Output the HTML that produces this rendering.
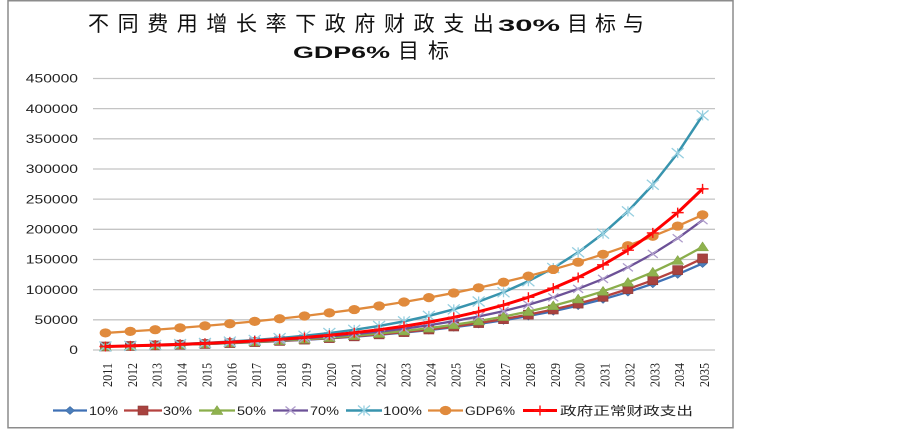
<!DOCTYPE html>
<html>
<head>
<meta charset="utf-8">
<style>
html,body{margin:0;padding:0;background:#fff;width:903px;height:429px;overflow:hidden}
svg{display:block}
</style>
</head>
<body>
<svg id="c" width="903" height="429" viewBox="0 0 903 429" xmlns="http://www.w3.org/2000/svg">
<rect x="8" y="0.75" width="725" height="427" fill="#fff" stroke="#8c8c8c" stroke-width="1.5"/>

<!-- Title -->
<g fill="#111">
<text y="31" font-size="21" font-family="'Liberation Sans','Noto Sans CJK SC',sans-serif" x="88 117.6 147.2 176.8 206.4 236 265.6 295.2 324.8 354.4 384 413.6 443.2 472.8">不同费用增长率下政府财政支出</text>
<text x="498" y="31" font-size="17" font-weight="bold" font-family="'Liberation Sans',sans-serif" textLength="62" lengthAdjust="spacingAndGlyphs">30%</text>
<text y="31" font-size="21" font-family="'Liberation Sans','Noto Sans CJK SC',sans-serif" x="567 595 623">目标与</text>
<text x="293" y="58" font-size="17" font-weight="bold" font-family="'Liberation Sans',sans-serif" textLength="97" lengthAdjust="spacingAndGlyphs">GDP6%</text>
<text y="58" font-size="21" font-family="'Liberation Sans','Noto Sans CJK SC',sans-serif" x="398 428">目标</text>
</g>

<g id="grid"></g>
<g id="ylab" font-family="'Liberation Sans',sans-serif" font-size="11.5" fill="#222"></g>
<g id="xlab" font-family="'Liberation Serif',serif" font-size="14" fill="#222"></g>
<g id="series"></g>
<g id="legend" font-family="'Liberation Sans','Noto Sans CJK SC',sans-serif" font-size="11.5" fill="#222"></g>
</svg>
<script>
(function(){
var NS="http://www.w3.org/2000/svg";
function el(tag,attrs,parent,txt){var e=document.createElementNS(NS,tag);for(var k in attrs)e.setAttribute(k,attrs[k]);if(txt!==undefined)e.textContent=txt;parent.appendChild(e);return e;}
var grid=document.getElementById('grid'),ylab=document.getElementById('ylab'),xlab=document.getElementById('xlab'),ser=document.getElementById('series'),leg=document.getElementById('legend');
var X0=93,X1=715,Y0=350,STEP=30.17;
function Y(v){return Y0-v/50000*STEP;}
function CX(i){return X0+(X1-X0)/25*(i+0.5);}
for(var k=0;k<=9;k++){
  var y=Y0-k*STEP;
  el('line',{x1:X0,x2:X1,y1:y,y2:y,stroke:'#c4c4c4','stroke-width':1.3},grid);
  var s=String(k*50000);
  el('text',{x:78,y:(y+4.2).toFixed(2),'text-anchor':'end',textLength:(s.length*8.7).toFixed(1),lengthAdjust:'spacingAndGlyphs'},ylab,s);
}
for(var i=0;i<25;i++){
  var bx=CX(i)+6.5;
  el('text',{transform:'translate('+bx.toFixed(2)+',363) rotate(-90)','text-anchor':'end',textLength:24,lengthAdjust:'spacingAndGlyphs'},xlab,String(2011+i));
}
function marker(type,x,y,g){
  switch(type){
    case 'diamond': el('polygon',{points:[x,y-4,x+4.5,y,x,y+4,x-4.5,y].join(' '),fill:'#4A7EBB',stroke:'#3C69A3','stroke-width':0.6},g);break;
    case 'square': el('rect',{x:x-5,y:y-4.5,width:10,height:9,fill:'#A8423F',stroke:'#8E3A38','stroke-width':0.6},g);break;
    case 'tri': el('polygon',{points:[x,y-5,x+6,y+4,x-6,y+4].join(' '),fill:'#8FB24E',stroke:'#7E9E43','stroke-width':0.5},g);break;
    case 'x': el('path',{d:'M'+(x-5)+' '+(y-4)+'L'+(x+5)+' '+(y+4)+'M'+(x-5)+' '+(y+4)+'L'+(x+5)+' '+(y-4),stroke:'#AE9CCB','stroke-width':1.3,fill:'none'},g);break;
    case 'star': el('path',{d:'M'+(x-6)+' '+(y-5)+'L'+(x+6)+' '+(y+5)+'M'+(x-6)+' '+(y+5)+'L'+(x+6)+' '+(y-5)+'M'+x+' '+(y-5)+'L'+x+' '+(y+5),stroke:'#96CFE0','stroke-width':1.3,fill:'none'},g);break;
    case 'circle': el('ellipse',{cx:x,cy:y,rx:5.8,ry:4.6,fill:'#E08A3C'},g);break;
    case 'plus': el('path',{d:'M'+(x-6)+' '+y+'L'+(x+6)+' '+y+'M'+x+' '+(y-5)+'L'+x+' '+(y+5),stroke:'#FF1010','stroke-width':1.4,fill:'none'},g);break;
  }
}
var S=[
 {b:5800,g:1.1430,c:'#3F70B5',m:'diamond',w:2.3,n:'10%'},
 {b:5800,g:1.1457,c:'#B5423F',m:'square',w:2.3,n:'30%'},
 {b:5800,g:1.1514,c:'#8AAE4B',m:'tri',w:2.3,n:'50%'},
 {b:5800,g:1.1625,c:'#6C5197',m:'x',w:2.3,n:'70%'},
 {b:5800,g:1.1915,c:'#3894AE',m:'star',w:2.5,n:'100%'},
 {b:28300,g:1.09,c:'#E08A3C',m:'circle',w:2.3,n:'GDP6%'},
 {b:5800,g:1.173,c:'#FF0000',m:'plus',w:3,n:'政府正常财政支出'}
];
S.forEach(function(s){
  var g=el('g',{},ser),pts=[];
  for(var i=0;i<25;i++){pts.push([CX(i),Y(s.b*Math.pow(s.g,i))]);}
  el('polyline',{points:pts.map(function(p){return p[0].toFixed(2)+','+p[1].toFixed(2);}).join(' '),fill:'none',stroke:s.c,'stroke-width':s.w,'stroke-linejoin':'round','stroke-linecap':'round'},g);
  pts.forEach(function(p){marker(s.m,p[0],p[1],g);});
});
var L=[
 {x1:53,x2:87,tx:89,tl:29},
 {x1:124,x2:162,tx:163,tl:29},
 {x1:199,x2:235,tx:237,tl:29},
 {x1:273,x2:308,tx:310,tl:29},
 {x1:346,x2:382,tx:383,tl:39},
 {x1:428,x2:463,tx:465,tl:50},
 {x1:523,x2:557,tx:560,tl:133}
];
var LY=410.5;
L.forEach(function(l,i){
  var s=S[i];
  el('line',{x1:l.x1,x2:l.x2,y1:LY,y2:LY,stroke:s.c,'stroke-width':s.w},leg);
  marker(s.m,(l.x1+l.x2)/2,LY,leg);
  el('text',{x:l.tx,y:LY+4.3,textLength:l.tl,lengthAdjust:'spacingAndGlyphs','font-size':(i==6?12:11.5)},leg,s.n);
});
})();
</script>
</body>
</html>
